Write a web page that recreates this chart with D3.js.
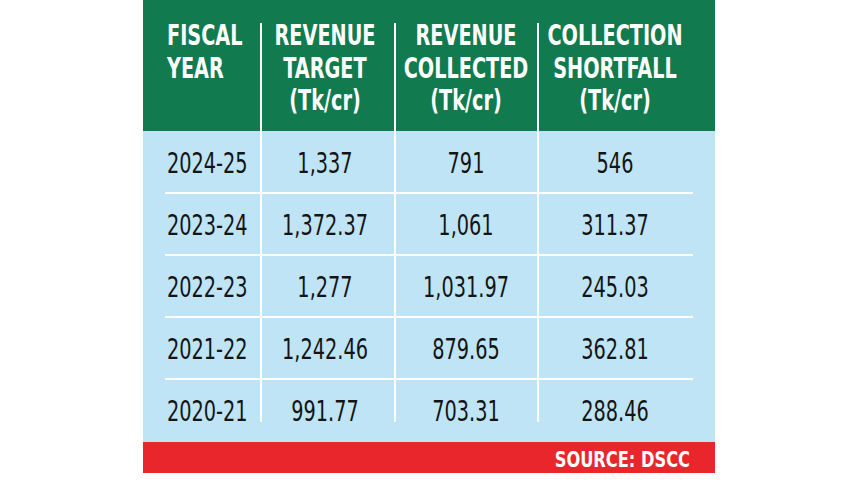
<!DOCTYPE html>
<html><head><meta charset="utf-8">
<script src="https://cdn.jsdelivr.net/npm/d3@7"></script>
<style>html,body{margin:0;padding:0;background:#fff;}svg{display:block;}</style>
</head><body><svg id="c" width="860" height="484"></svg>
<script>
const headers = [["FISCAL","YEAR"],["REVENUE","TARGET","(Tk/cr)"],["REVENUE","COLLECTED","(Tk/cr)"],["COLLECTION","SHORTFALL","(Tk/cr)"]];
const years = ["2024-25","2023-24","2022-23","2021-22","2020-21"];
const revenueTarget = [1337, 1372.37, 1277, 1242.46, 991.77];
const revenueCollected = [791, 1061, 1031.97, 879.65, 703.31];
const collectionShortfall = [546, 311.37, 245.03, 362.81, 288.46];
const source = "SOURCE: DSCC";

const svg = d3.select("#c");
const L = 143, R = 715, HT = 0, HB = 131, BB = 442, FB = 473;
const GREEN = "#117a4f", BLUE = "#bee4f6", RED = "#e8262b";
const FONT = "'DejaVu Sans Condensed','Liberation Sans',sans-serif";
const dividers = [261, 395, 538];
const colX = [167, 325, 466, 615];
const colAnchor = ["start","middle","middle","middle"];

const fmt = d3.format(",");
const rows = years.map((y,i)=>[y, fmt(revenueTarget[i]), fmt(revenueCollected[i]), fmt(collectionShortfall[i])]);

const yBand = d3.scaleBand().domain(years).range([HB, BB - 1]).padding(0);

svg.append("rect").attr("x",L).attr("y",HT).attr("width",R-L).attr("height",HB-HT).attr("fill",GREEN);
svg.append("rect").attr("x",L).attr("y",HB).attr("width",R-L).attr("height",BB-HB).attr("fill",BLUE);
svg.append("rect").attr("x",L).attr("y",BB).attr("width",R-L).attr("height",FB-BB).attr("fill",RED);

svg.selectAll("line.h").data(years.slice(0,-1)).join("line")
  .attr("x1",165).attr("x2",693)
  .attr("y1",d=>yBand(d)+yBand.bandwidth()).attr("y2",d=>yBand(d)+yBand.bandwidth())
  .attr("stroke","#fff").attr("stroke-width",2.2);

svg.selectAll("line.v").data(dividers).join("line")
  .attr("x1",d=>d).attr("x2",d=>d).attr("y1",23).attr("y2",422)
  .attr("stroke","#fff").attr("stroke-width",2);

function squeeze(sel, f){
  sel.each(function(){ const w=this.getComputedTextLength(); d3.select(this).attr("textLength",w*f).attr("lengthAdjust","spacingAndGlyphs"); });
}

const hb = [45, 78, 110];
headers.forEach((lines,c)=>{
  const t = svg.selectAll(null).data(lines).join("text")
    .attr("x",colX[c]).attr("y",(d,i)=>hb[i])
    .attr("text-anchor",colAnchor[c])
    .attr("fill","#fff").attr("font-family",FONT).attr("font-weight","bold")
    .attr("font-size",28).text(d=>d);
  squeeze(t, 0.765);
});

rows.forEach((r,i)=>{
  const t = svg.selectAll(null).data(r).join("text")
    .attr("x",(d,c)=>colX[c]).attr("y",yBand(years[i])+yBand.bandwidth()/2+11)
    .attr("text-anchor",(d,c)=>colAnchor[c])
    .attr("fill","#141414").attr("font-family",FONT)
    .attr("font-size",29).text(d=>d);
  squeeze(t, 0.74);
});

const s = svg.append("text").attr("x",690).attr("y",467).attr("text-anchor","end")
  .attr("fill","#fff").attr("font-family",FONT).attr("font-weight","bold")
  .attr("font-size",22).text(source);
squeeze(s, 0.82);
</script></body></html>
